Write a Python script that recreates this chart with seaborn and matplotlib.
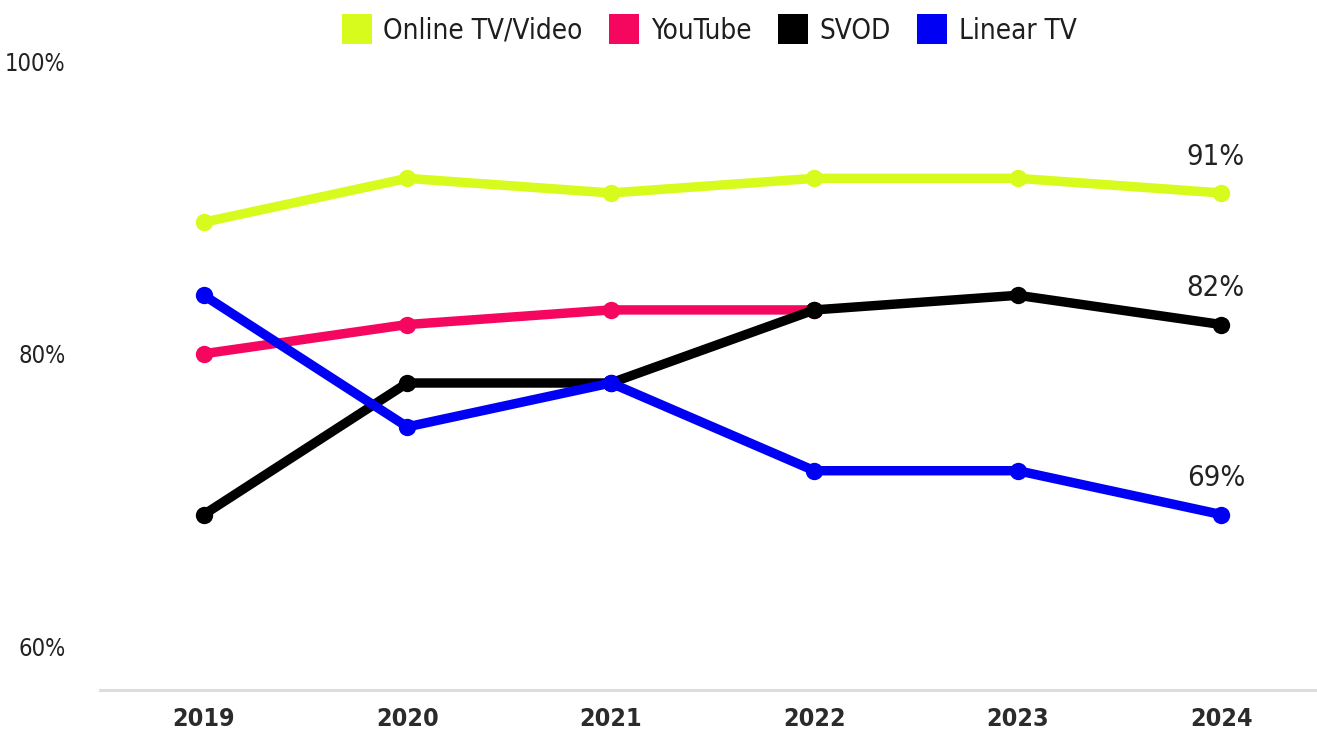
import matplotlib
matplotlib.use("Agg")
import matplotlib.pyplot as plt
from matplotlib.lines import Line2D
import seaborn as sns
import pandas as pd

years = [2019, 2020, 2021, 2022, 2023, 2024]
online_video = [89, 92, 91, 92, 92, 91]
youtube = [80, 82, 83, 83]
svod = [69, 78, 78, 83, 84, 82]
linear_tv = [84, 75, 78, 72, 72, 69]

series_names = ["Online TV/Video", "YouTube", "SVOD", "Linear TV"]
series_colors = ["#D6FB1C", "#F5075F", "#000000", "#0000F5"]
end_labels = {"Online TV/Video": "91%", "SVOD": "82%", "Linear TV": "69%"}
y_ticks = [60, 80, 100]
y_tick_labels = ["60%", "80%", "100%"]

rows = []
for name, vals in zip(series_names, [online_video, youtube, svod, linear_tv]):
    for yr, v in zip(years, vals):
        rows.append({"year": yr, "share": v, "series": name})
df = pd.DataFrame(rows)

sns.set_theme(style="white")
plt.rcParams["font.family"] = ["DejaVu Sans"]

W, H = 1317, 731
fig = plt.figure(figsize=(W / 100, H / 100), dpi=100)
ax = fig.add_axes([100 / W, (H - 690) / H, (W - 100) / W, 690 / H])

palette = dict(zip(series_names, series_colors))
sns.lineplot(
    data=df, x="year", y="share", hue="series", hue_order=series_names,
    palette=palette, marker="o", markersize=12.5, markeredgewidth=0,
    linewidth=6.8, ax=ax, legend=False, estimator=None, sort=True,
)

ax.set_xlim(2018.49, 2024.47)
ax.set_ylim(57.0, 104.2)
ax.set_xticks(years)
ax.set_xticklabels([str(y) for y in years], fontsize=18, color="#2b2b2b",
                   fontweight="semibold", fontstretch="condensed")
ax.set_yticks(y_ticks)
ax.set_yticklabels(y_tick_labels, fontsize=17, color="#222222",
                   fontstretch="condensed")
ax.tick_params(axis="y", length=0, pad=25)
ax.tick_params(axis="x", length=0, pad=12)
ax.set_xlabel("")
ax.set_ylabel("")
for side in ["top", "right", "left"]:
    ax.spines[side].set_visible(False)
ax.spines["bottom"].set_color("#dddddd")
ax.spines["bottom"].set_linewidth(2.2)
ax.grid(False)

# value labels above the last point of each series
last_vals = {"Online TV/Video": online_video[-1], "SVOD": svod[-1],
             "Linear TV": linear_tv[-1]}
for name, txt in end_labels.items():
    ax.annotate(txt, xy=(years[-1], last_vals[name]), xytext=(-4, 26),
                textcoords="offset points", ha="center", va="center",
                fontsize=21, color="#222222", fontstretch="condensed")

handles = [Line2D([], [], linestyle="none", marker="s", markersize=22,
                  markerfacecolor=c, markeredgewidth=0) for c in series_colors]
leg = fig.legend(handles, series_names, loc="center", ncol=4,
                 bbox_to_anchor=(0.539, 0.958), frameon=False,
                 handletextpad=0.45, columnspacing=1.0, handlelength=1.0,
                 prop={"size": 20, "stretch": "condensed"})
for t in leg.get_texts():
    t.set_color("#1e1e1e")

fig.savefig("out.png", dpi=100, facecolor="white")
